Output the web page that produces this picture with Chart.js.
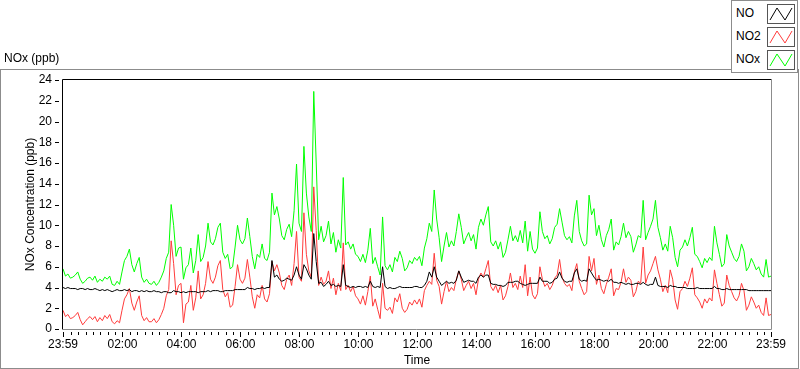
<!DOCTYPE html>
<html lang="en">
<head>
<meta charset="UTF-8">
<title>NOx (ppb)</title>
<script src="https://cdn.jsdelivr.net/npm/chart.js"></script>
<style>
  body { margin: 0; background: #fff; font-family: "Liberation Sans", Arial, sans-serif; color: #000; }
  #wrap { position: relative; width: 800px; height: 369px; overflow: hidden; }
  #frame { position: absolute; left: 0; top: 69px; width: 797px; height: 298px; border: 1px solid #8c8c8c; }
  #chart { position: absolute; left: 0; top: 0; }
  #plotName { position: absolute; left: 4px; top: 51px; font-size: 12px; line-height: 14px; }
  #legend { position: absolute; left: 731px; top: 0; width: 65px; height: 71px; border: 1px solid #8c8c8c; background: #fff; }
  .item { position: absolute; left: 0; width: 65px; height: 23px; }
  .item span { position: absolute; left: 4px; top: 0; font-size: 12px; line-height: 23px; }
  .item svg { position: absolute; left: 35px; top: 2px; }
</style>
</head>
<body>
<div id="wrap">
  <div id="frame"></div>
  <canvas id="chart" width="800" height="369"></canvas>
  <div id="plotName">NOx (ppb)</div>
  <div id="legend"></div>
</div>

<script>
// 5-minute samples starting at 23:59, 289 points per series
const stepMinutes = 5;

const noValues = [
  4.0, 3.9, 4.0, 3.9, 3.9, 3.9, 3.8, 3.9, 3.9, 3.8, 3.9, 3.8,
  3.8, 3.9, 3.8, 3.7, 3.8, 3.7, 3.8, 3.7, 3.6, 3.7, 3.8, 3.7,
  3.7, 3.8, 3.7, 3.8, 3.6, 3.7, 3.7, 3.6, 3.7, 3.6, 3.7, 3.6,
  3.6, 3.7, 3.6, 3.6, 3.5, 3.6, 3.6, 3.5, 3.5, 3.7, 3.6, 3.6,
  3.5, 3.6, 3.5, 3.6, 3.6, 3.6, 3.6, 3.5, 3.6, 3.6, 3.6, 3.7,
  3.6, 3.7, 3.7, 3.7, 3.6, 3.6, 3.7, 3.7, 3.7, 3.7, 3.8, 3.8,
  3.8, 3.8, 3.8, 4.0, 3.9, 3.9, 3.8, 3.9, 3.9, 4.0, 3.9, 4.0,
  4.0, 6.6, 5.0, 5.2, 4.8, 4.6, 4.7, 4.9, 4.8, 4.7, 5.2, 6.0,
  5.2, 4.8, 6.2, 5.8, 5.2, 4.8, 9.2, 6.5, 4.4, 4.5, 4.1, 4.3,
  4.6, 4.2, 4.3, 4.1, 4.2, 4.1, 6.2, 4.2, 4.1, 4.0, 4.1, 4.0,
  4.1, 4.1, 4.0, 4.1, 4.0, 4.6, 4.1, 4.0, 4.1, 4.0, 6.0, 4.1,
  3.9, 4.0, 3.9, 3.9, 4.0, 4.1, 4.0, 4.0, 4.0, 4.0, 4.0, 4.1,
  4.1, 4.0, 4.0, 4.2, 4.6, 5.5, 5.0, 6.0, 5.0, 4.6, 4.2, 4.4,
  4.6, 4.4, 4.5, 4.4, 4.7, 5.6, 5.0, 4.5, 4.6, 4.7, 4.6, 4.6,
  4.4, 5.0, 5.2, 5.0, 5.2, 5.2, 4.4, 4.3, 4.3, 4.2, 4.2, 4.1,
  4.2, 4.5, 4.5, 4.5, 4.6, 4.6, 4.4, 4.3, 4.2, 4.3, 4.4, 4.4,
  4.4, 4.4, 5.0, 4.6, 4.6, 4.6, 4.4, 4.5, 4.8, 4.9, 5.5, 4.9,
  4.6, 4.5, 4.6, 4.6, 5.4, 5.8, 4.8, 4.6, 4.7, 4.6, 5.8, 5.4,
  5.0, 4.7, 4.8, 4.7, 4.6, 4.7, 4.6, 4.8, 4.5, 4.5, 4.4, 4.5,
  4.4, 4.3, 4.4, 4.3, 4.3, 4.4, 4.4, 4.3, 4.5, 4.3, 4.2, 4.3,
  4.3, 5.0, 4.2, 4.1, 4.1, 4.1, 4.0, 4.2, 4.1, 4.1, 4.0, 4.0,
  4.0, 4.0, 3.9, 3.9, 3.9, 3.9, 4.0, 3.9, 3.9, 3.9, 3.9, 3.9,
  3.9, 4.1, 3.9, 3.9, 3.8, 3.8, 3.9, 3.8, 3.8, 3.8, 3.8, 3.8,
  3.8, 3.8, 3.8, 3.7, 3.7, 3.7, 3.7, 3.7, 3.7, 3.7, 3.7, 3.7, 3.7
];

const no2Values = [
  1.8, 1.2, 1.4, 1.0, 1.1, 1.3, 1.6, 0.9, 0.4, 0.7, 1.0, 1.2,
  0.9, 1.2, 0.7, 1.1, 0.8, 1.3, 1.0, 1.4, 0.7, 0.5, 0.8, 0.6,
  1.8, 2.9, 3.3, 3.9, 2.5, 1.8, 2.6, 3.2, 1.3, 0.8, 1.1, 0.7,
  0.7, 1.0, 0.6, 0.9, 1.4, 2.0, 3.2, 3.8, 8.5, 6.3, 3.3, 4.2,
  4.4, 0.6, 2.4, 2.6, 4.2, 1.8, 3.0, 5.6, 2.9, 3.3, 4.4, 6.5,
  4.8, 4.4, 5.0, 6.1, 6.6, 3.8, 3.1, 3.5, 2.1, 2.3, 4.1, 6.2,
  4.8, 4.4, 4.9, 6.7, 5.0, 3.1, 2.0, 3.3, 3.0, 4.2, 2.9, 2.6,
  3.4, 6.5, 5.6, 6.2, 5.4, 4.2, 3.8, 4.8, 5.2, 4.2, 6.3, 9.4,
  5.0, 4.6, 11.2, 7.2, 5.6, 5.0, 13.7, 9.5, 4.2, 5.0, 4.3, 4.6,
  5.6, 3.9, 4.9, 3.3, 4.4, 3.7, 8.3, 3.8, 4.2, 3.6, 4.1, 3.2,
  2.9, 2.4, 3.2, 2.3, 3.6, 5.1, 2.2, 2.9, 1.9, 1.0, 4.4, 2.0,
  1.8, 2.1, 1.5, 3.0, 2.6, 3.4, 2.0, 1.6, 1.9, 2.6, 2.3, 2.8,
  2.4, 2.9, 2.1, 3.7, 4.2, 4.6, 4.3, 7.3, 4.7, 4.1, 2.4, 3.6,
  4.6, 3.6, 4.0, 3.7, 4.8, 5.6, 4.8, 3.7, 4.2, 4.6, 3.9, 4.4,
  3.3, 4.8, 5.4, 5.0, 5.8, 6.6, 4.1, 3.7, 4.2, 3.5, 4.2, 2.8,
  3.2, 4.1, 5.4, 4.0, 4.4, 3.8, 5.1, 4.0, 6.2, 3.2, 5.0, 3.3,
  2.9, 3.4, 6.0, 4.8, 4.1, 4.4, 3.8, 4.2, 4.9, 5.2, 6.7, 5.0,
  4.4, 4.1, 4.3, 3.7, 5.5, 6.3, 4.6, 3.9, 3.3, 3.6, 7.0, 5.6,
  6.8, 4.3, 5.2, 3.9, 3.4, 4.3, 5.0, 5.8, 3.2, 3.9, 3.8, 4.5,
  5.8, 4.5, 5.0, 4.7, 3.1, 3.6, 4.6, 4.4, 7.9, 4.4, 5.2, 5.6,
  6.3, 7.0, 5.7, 4.8, 3.6, 4.2, 3.5, 5.7, 4.8, 2.8, 1.9, 3.6,
  3.9, 4.6, 4.1, 4.9, 5.9, 3.3, 3.0, 2.6, 2.0, 2.9, 2.5, 3.0,
  2.7, 5.7, 4.4, 3.3, 2.2, 2.5, 5.2, 4.2, 3.6, 3.0, 2.7, 3.2,
  4.4, 3.7, 1.8, 2.3, 3.1, 2.6, 2.0, 2.3, 1.6, 1.3, 3.0, 1.3, 1.4
];

const noxValues = [
  5.8, 5.1, 5.3, 4.9, 5.0, 5.2, 5.5, 4.8, 4.4, 4.6, 4.9, 5.0,
  4.7, 5.1, 4.5, 4.8, 4.6, 5.0, 4.8, 5.1, 4.3, 4.2, 4.6, 4.3,
  5.5, 6.6, 7.0, 7.7, 6.2, 5.5, 6.3, 6.9, 5.0, 4.5, 4.8, 4.4,
  4.3, 4.6, 4.2, 4.5, 5.0, 5.6, 6.8, 7.4, 12.0, 10.0, 7.0, 7.8,
  7.9, 4.8, 5.9, 6.2, 7.8, 5.4, 6.6, 9.1, 6.5, 6.9, 8.0, 10.2,
  8.4, 8.1, 8.7, 9.8, 10.2, 7.4, 6.8, 7.2, 5.8, 6.0, 7.9, 10.0,
  8.6, 8.2, 8.7, 10.7, 8.9, 7.0, 5.8, 7.2, 6.9, 8.2, 6.8, 6.6,
  7.4, 13.1, 11.0, 11.8, 10.6, 9.0, 8.6, 9.6, 10.1, 8.9, 11.4, 15.9,
  10.2, 9.4, 17.6, 13.1, 10.8, 9.4, 22.9, 16.0, 8.6, 9.9, 8.4, 9.0,
  10.4, 8.2, 9.3, 7.4, 8.6, 7.8, 14.6, 8.1, 8.4, 7.7, 8.2, 7.2,
  7.0, 6.5, 7.2, 6.4, 7.6, 9.7, 6.3, 6.9, 6.0, 5.2, 10.8, 6.1,
  5.7, 6.2, 5.5, 6.9, 6.5, 7.5, 6.8, 5.6, 5.9, 6.6, 6.3, 6.9,
  6.6, 7.0, 6.1, 7.8, 8.7, 10.2, 9.4, 13.4, 10.6, 8.8, 6.5, 8.0,
  9.3, 7.9, 8.5, 8.0, 9.4, 11.1, 9.8, 8.2, 8.8, 9.3, 8.5, 9.1,
  7.7, 9.8, 10.6, 10.0, 11.0, 11.8, 8.4, 8.0, 8.5, 7.7, 8.4, 6.9,
  7.4, 8.6, 9.9, 8.5, 9.0, 8.4, 9.5, 8.3, 10.4, 7.5, 9.4, 7.7,
  7.3, 7.8, 11.3, 9.4, 8.7, 9.0, 8.2, 8.7, 9.8, 10.1, 11.6, 10.3,
  9.0, 8.6, 8.9, 8.3, 10.9, 12.4, 9.4, 8.5, 8.0, 8.2, 12.9, 11.0,
  11.6, 9.0, 10.0, 8.6, 7.9, 9.0, 9.6, 10.6, 7.6, 8.4, 8.1, 8.9,
  10.2, 8.8, 9.4, 8.9, 7.4, 8.1, 9.0, 8.8, 12.4, 8.6, 9.3, 9.9,
  10.6, 12.4, 9.8, 8.8, 7.6, 8.2, 7.5, 9.9, 8.8, 6.9, 6.0, 7.6,
  7.9, 8.6, 8.0, 8.8, 9.8, 7.2, 7.0, 6.5, 5.9, 6.8, 6.4, 6.9,
  6.6, 9.9, 8.3, 7.2, 6.0, 6.3, 9.1, 8.0, 7.4, 6.8, 6.5, 7.0,
  8.2, 7.5, 5.6, 6.0, 6.8, 6.3, 5.7, 6.0, 5.3, 5.0, 6.7, 5.0, 5.1
];

// x axis: minutes after 23:59
const xTickMinutes = [0, 121, 241, 361, 481, 601, 721, 841, 961, 1081, 1201, 1321, 1440];
const xTickLabels = ['23:59', '02:00', '04:00', '06:00', '08:00', '10:00', '12:00',
                     '14:00', '16:00', '18:00', '20:00', '22:00', '23:59'];
const yTicks = [0, 2, 4, 6, 8, 10, 12, 14, 16, 18, 20, 22, 24];

const seriesNames = ['NO', 'NO2', 'NOx'];
const seriesColors = ['#000000', '#ff3b3b', '#00ff00'];

const fontFamily = '"Liberation Sans", Arial, sans-serif';

function toPoints(values) {
    return values.map((v, i) => ({ x: i * stepMinutes, y: v }));
}

// legend boxes (HTML)
const legendEl = document.getElementById('legend');
seriesNames.forEach((name, i) => {
    const item = document.createElement('div');
    item.className = 'item';
    item.style.top = (1 + i * 23) + 'px';
    item.innerHTML = '<span>' + name + '</span>' +
        '<svg width="28" height="20"><rect x="0.5" y="0.5" width="27" height="19" fill="#fff" stroke="#555"/>' +
        '<polyline points="3,16 10,4 18,16 25,4" fill="none" stroke="' + seriesColors[i] + '" stroke-width="1"/></svg>';
    legendEl.appendChild(item);
});

// frame, tick marks and axis titles
const plotDecor = {
    id: 'plotDecor',
    afterDatasetsDraw(chart) {
        const c = chart.ctx;
        const a = chart.chartArea;
        const xs = chart.scales.x;
        const ys = chart.scales.y;
        c.save();
        c.lineWidth = 1;

        // plot frame: dark top/left, grey right/bottom
        c.strokeStyle = '#000';
        c.beginPath();
        c.moveTo(a.left - 0.5, a.bottom);
        c.lineTo(a.left - 0.5, a.top - 0.5);
        c.lineTo(a.right + 0.5, a.top - 0.5);
        c.stroke();
        c.strokeStyle = '#8c8c8c';
        c.beginPath();
        c.moveTo(a.right + 0.5, a.top - 0.5);
        c.lineTo(a.right + 0.5, a.bottom + 0.5);
        c.lineTo(a.left - 1, a.bottom + 0.5);
        c.stroke();

        // x tick marks: every 15 min of clock time, long ones at labels
        c.strokeStyle = '#000';
        c.beginPath();
        for (let m = 1; m < 1440; m += 15) {
            const px = Math.round(xs.getPixelForValue(m)) + 0.5;
            c.moveTo(px, a.bottom + 3);
            c.lineTo(px, a.bottom + 6);
        }
        xTickMinutes.forEach(m => {
            const px = Math.round(xs.getPixelForValue(m)) + 0.5;
            c.moveTo(px, a.bottom + 3);
            c.lineTo(px, a.bottom + 8);
        });
        c.stroke();

        // y tick marks
        c.beginPath();
        yTicks.forEach(v => {
            const py = Math.round(ys.getPixelForValue(v)) + 0.5;
            c.moveTo(a.left - 8, py);
            c.lineTo(a.left - 4, py);
        });
        c.stroke();

        // axis titles
        c.fillStyle = '#000';
        c.font = '12px ' + fontFamily;
        c.textAlign = 'center';
        c.textBaseline = 'middle';
        c.fillText('Time', (a.left + a.right) / 2, 361);
        c.translate(31, (a.top + a.bottom) / 2);
        c.rotate(-Math.PI / 2);
        c.fillText('NOx Concentration (ppb)', 0, 0);
        c.restore();
    }
};

const ctx = document.getElementById('chart').getContext('2d');
const noxChart = new Chart(ctx, {
    type: 'line',
    data: {
        datasets: [noValues, no2Values, noxValues].map((vals, i) => ({
            label: seriesNames[i],
            data: toPoints(vals),
            borderColor: seriesColors[i],
            backgroundColor: seriesColors[i],
            borderWidth: 1,
            pointRadius: 0,
            tension: 0,
            fill: false
        }))
    },
    options: {
        responsive: false,
        animation: false,
        devicePixelRatio: 1,
        layout: { padding: { top: 80, right: 29, left: 0, bottom: 0 } },
        plugins: {
            legend: { display: false },
            tooltip: { enabled: false }
        },
        scales: {
            x: {
                type: 'linear',
                min: 0,
                max: 1440,
                afterBuildTicks: scale => {
                    scale.ticks = xTickMinutes.map(v => ({ value: v }));
                },
                afterFit: scale => { scale.height = 40; },
                ticks: {
                    autoSkip: false,
                    maxRotation: 0,
                    color: '#000',
                    padding: 2,
                    font: { family: fontFamily, size: 12 },
                    callback: (value, index) => xTickLabels[index]
                },
                grid: { drawOnChartArea: false, drawTicks: true, tickLength: 6, color: 'rgba(0,0,0,0)' },
                border: { display: false }
            },
            y: {
                min: 0,
                max: 24,
                afterFit: scale => { scale.width = 63; },
                ticks: {
                    stepSize: 2,
                    color: '#000',
                    padding: 2,
                    font: { family: fontFamily, size: 12 }
                },
                grid: { drawOnChartArea: false, drawTicks: true, tickLength: 9, color: 'rgba(0,0,0,0)' },
                border: { display: false }
            }
        }
    },
    plugins: [plotDecor]
});
</script>
</body>
</html>
